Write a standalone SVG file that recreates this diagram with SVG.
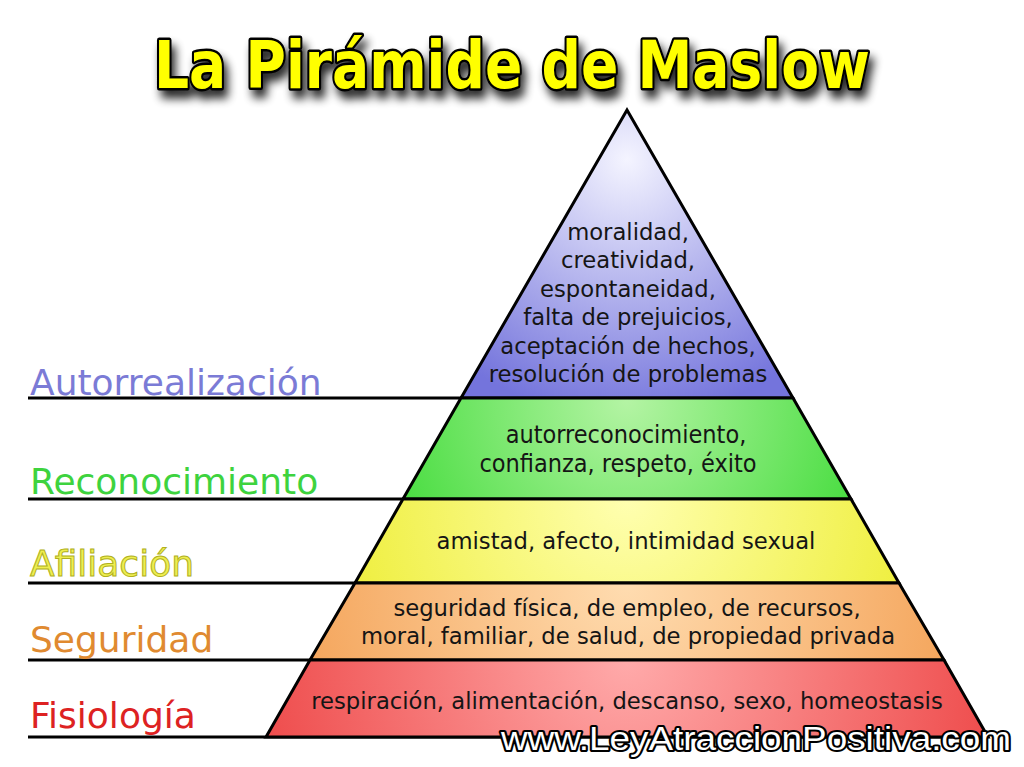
<svg xmlns="http://www.w3.org/2000/svg" width="1024" height="767" viewBox="0 0 1024 767">
<style>
.lvl{font-family:"DejaVu Sans","Liberation Sans",sans-serif;font-size:36px}
.txt{font-family:"DejaVu Sans","Liberation Sans",sans-serif;font-size:22.7px;fill:#151515;text-anchor:middle}
.cond{font-family:"DejaVu Sans Condensed","DejaVu Sans",sans-serif;font-size:25px;fill:#151515;text-anchor:middle}
.band{stroke:#000;stroke-width:3;stroke-linejoin:miter}
.rule{stroke:#000;stroke-width:3}
</style>
<defs>
<radialGradient id="gP" gradientUnits="userSpaceOnUse" cx="627" cy="160" r="260"><stop offset="0" stop-color="#f4f4ff"/><stop offset="1" stop-color="#7474dc"/></radialGradient>
<radialGradient id="gG" gradientUnits="userSpaceOnUse" cx="627" cy="400" r="260"><stop offset="0" stop-color="#b4f4a4"/><stop offset="1" stop-color="#44dc3c"/></radialGradient>
<radialGradient id="gY" gradientUnits="userSpaceOnUse" cx="627" cy="500" r="300"><stop offset="0" stop-color="#ffffb0"/><stop offset="1" stop-color="#eeee3a"/></radialGradient>
<radialGradient id="gO" gradientUnits="userSpaceOnUse" cx="627" cy="584" r="340"><stop offset="0" stop-color="#ffdcb0"/><stop offset="1" stop-color="#f4a45a"/></radialGradient>
<radialGradient id="gR" gradientUnits="userSpaceOnUse" cx="627" cy="660" r="380"><stop offset="0" stop-color="#ffaaaa"/><stop offset="1" stop-color="#ee4a4a"/></radialGradient>
<filter id="sh" x="-10%" y="-30%" width="120%" height="170%"><feGaussianBlur in="SourceAlpha" stdDeviation="5"/><feOffset dx="4" dy="8" result="b"/><feComponentTransfer><feFuncA type="linear" slope="0.85"/></feComponentTransfer><feMerge><feMergeNode/><feMergeNode in="SourceGraphic"/></feMerge></filter>
</defs>
<rect width="1024" height="767" fill="#fff"/>
<g id="title" filter="url(#sh)">
<text x="512" y="88" text-anchor="middle" font-family="DejaVu Sans,sans-serif" font-weight="bold" font-size="66" fill="#ffff00" stroke="#000" stroke-width="5" paint-order="stroke" stroke-linejoin="round" textLength="716" lengthAdjust="spacingAndGlyphs">La Pirámide de Maslow</text>
</g>
<g id="connectors">
<line class="rule" x1="28" y1="398" x2="793" y2="398"/>
<line class="rule" x1="28" y1="499" x2="851" y2="499"/>
<line class="rule" x1="28" y1="583" x2="899" y2="583"/>
<line class="rule" x1="28" y1="660" x2="944" y2="660"/>
<line class="rule" x1="28" y1="737" x2="988" y2="737"/>
</g>
<g id="autorrealizacion">
<polygon class="band" fill="url(#gP)" points="627,110 793,398 461,398"/>
<text class="lvl" x="30" y="395" fill="#7b7bd6">Autorrealización</text>
<text class="txt" x="628" y="240">moralidad,</text>
<text class="txt" x="628" y="268">creatividad,</text>
<text class="txt" x="628" y="297">espontaneidad,</text>
<text class="txt" x="628" y="325">falta de prejuicios,</text>
<text class="txt" x="628" y="354">aceptación de hechos,</text>
<text class="txt" x="628" y="382">resolución de problemas</text>
</g>
<g id="reconocimiento">
<polygon class="band" fill="url(#gG)" points="461,398 793,398 851,499 403,499"/>
<text class="lvl" x="30" y="494" fill="#3ed33e">Reconocimiento</text>
<text class="cond" x="626" y="443">autorreconocimiento,</text>
<text class="cond" x="618" y="472">confianza, respeto, éxito</text>
</g>
<g id="afiliacion">
<polygon class="band" fill="url(#gY)" points="403,499 851,499 899,583 355,583"/>
<text class="lvl" x="30" y="576" fill="#eeee50" stroke="#b0b020" stroke-width="1">Afiliación</text>
<text class="txt" x="626" y="549">amistad, afecto, intimidad sexual</text>
</g>
<g id="seguridad">
<polygon class="band" fill="url(#gO)" points="355,583 899,583 944,660 310,660"/>
<text class="lvl" x="30" y="652" fill="#e08a30">Seguridad</text>
<text class="txt" x="627" y="616">seguridad física, de empleo, de recursos,</text>
<text class="txt" x="628" y="644">moral, familiar, de salud, de propiedad privada</text>
</g>
<g id="fisiologia">
<polygon class="band" fill="url(#gR)" points="310,660 944,660 988,737 266,737"/>
<text class="lvl" x="30" y="728" fill="#dd2222">Fisiología</text>
<text class="txt" x="627" y="709">respiración, alimentación, descanso, sexo, homeostasis</text>
</g>
<g id="watermark">
<text x="1011" y="750" text-anchor="end" font-family="Liberation Sans,sans-serif" font-size="33" fill="#fff" stroke="#000" stroke-width="4" paint-order="stroke" stroke-linejoin="round" textLength="510" lengthAdjust="spacingAndGlyphs">www.LeyAtraccionPositiva.com</text>
</g>
</svg>
